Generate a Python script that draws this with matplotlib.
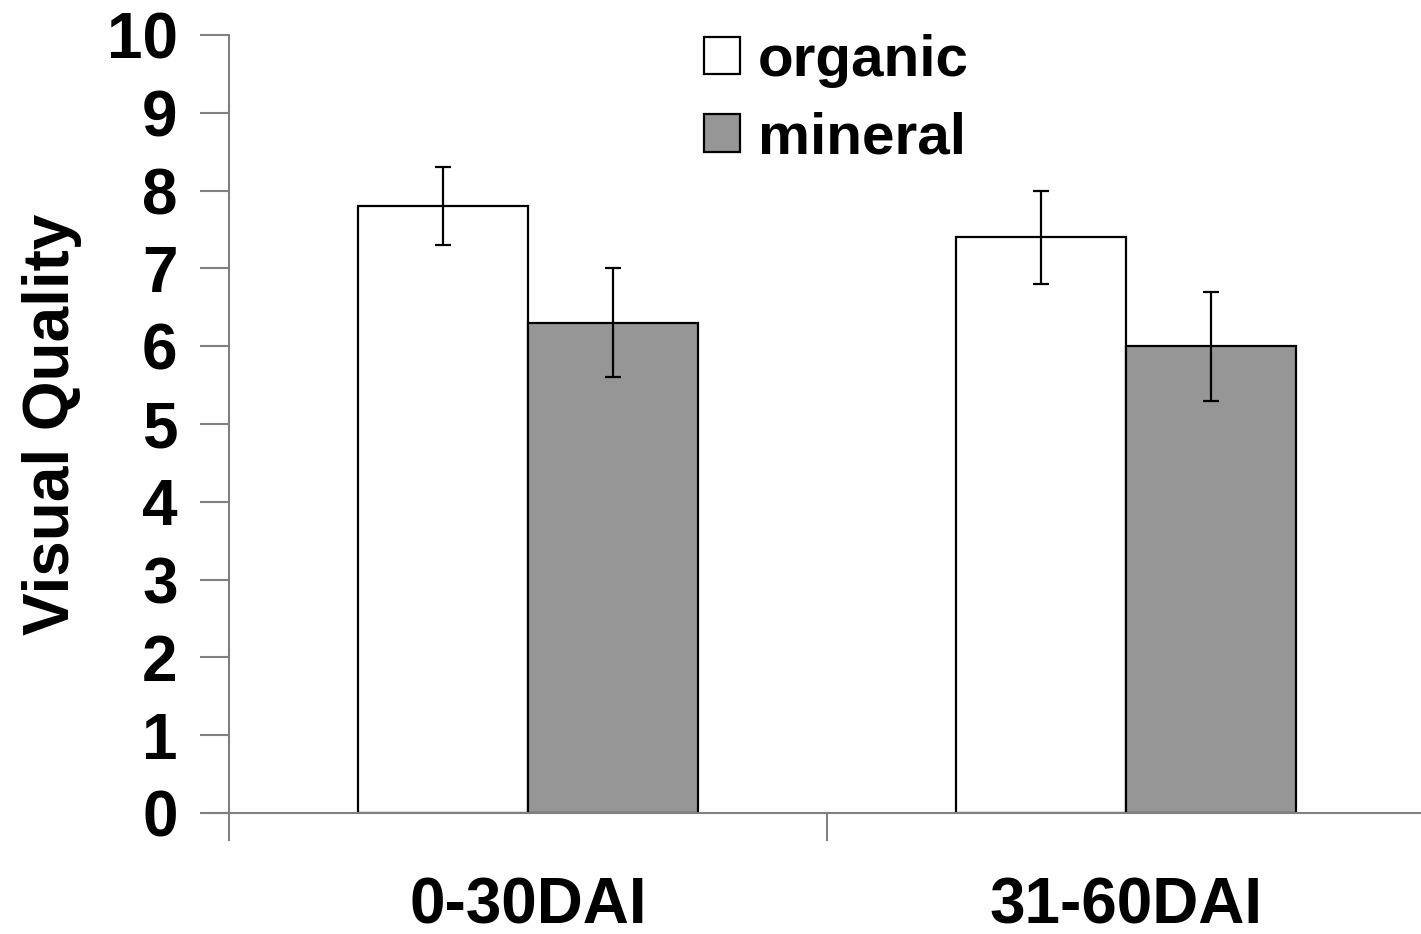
import numpy as np
import matplotlib.pyplot as plt

plt.rcParams['font.family'] = ['Liberation Sans', 'DejaVu Sans']
plt.rcParams['font.weight'] = 'bold'
plt.rcParams['axes.labelweight'] = 'bold'

periods = ['0-30DAI', '31-60DAI']
organic = [7.8, 7.4]
organic_err = [0.5, 0.6]
mineral = [6.3, 6.0]
mineral_err = [0.7, 0.7]
yticks = np.arange(0, 11, 1)

fig = plt.figure(figsize=(14.21, 9.34), dpi=100)
ax = fig.add_axes([229 / 1421, 121 / 934, 1 - 229 / 1421, 778 / 934])

x = np.arange(len(periods)) + 0.5
w = 0.285
ekw = dict(ecolor='black', elinewidth=1.6, capsize=6, capthick=1.6)
ax.bar(x - w / 2, organic, w, yerr=organic_err, color='white',
       edgecolor='black', linewidth=1.6, label='organic', error_kw=ekw)
ax.bar(x + w / 2, mineral, w, yerr=mineral_err, color='#969696',
       edgecolor='black', linewidth=1.6, label='mineral', error_kw=ekw)

ax.set_xlim(0, 1192 / 598)
ax.set_ylim(0, 10)
ax.set_yticks(yticks)
ax.tick_params(axis='y', direction='out', length=21, width=1.5,
               color='#808080', labelsize=46, pad=16)

# boundaries as major ticks, labels on minor ticks
ax.set_xticks([0, 1])
ax.set_xticklabels([])
ax.tick_params(axis='x', which='major', direction='out', length=20,
               width=1.5, color='#808080')
ax.set_xticks(x, minor=True)
ax.set_xticklabels(periods, minor=True)
ax.tick_params(axis='x', which='minor', length=0, labelsize=46, pad=46)

for s in ['top', 'right']:
    ax.spines[s].set_visible(False)
for s in ['left', 'bottom']:
    ax.spines[s].set_color('#808080')
    ax.spines[s].set_linewidth(1.5)
ax.spines['bottom'].set_bounds(-21 / 598, 2)

ax.set_ylabel('Visual Quality', fontsize=46, fontweight='bold', labelpad=18)

ax.legend(loc='upper left', bbox_to_anchor=(704 / 1421, 1 - 34 / 934),
          bbox_transform=fig.transFigure, frameon=False, fontsize=42,
          handlelength=0.62, handleheight=0.62, handletextpad=0.3,
          labelspacing=0.41, borderpad=0, borderaxespad=0)

fig.savefig('out.png', dpi=100)
